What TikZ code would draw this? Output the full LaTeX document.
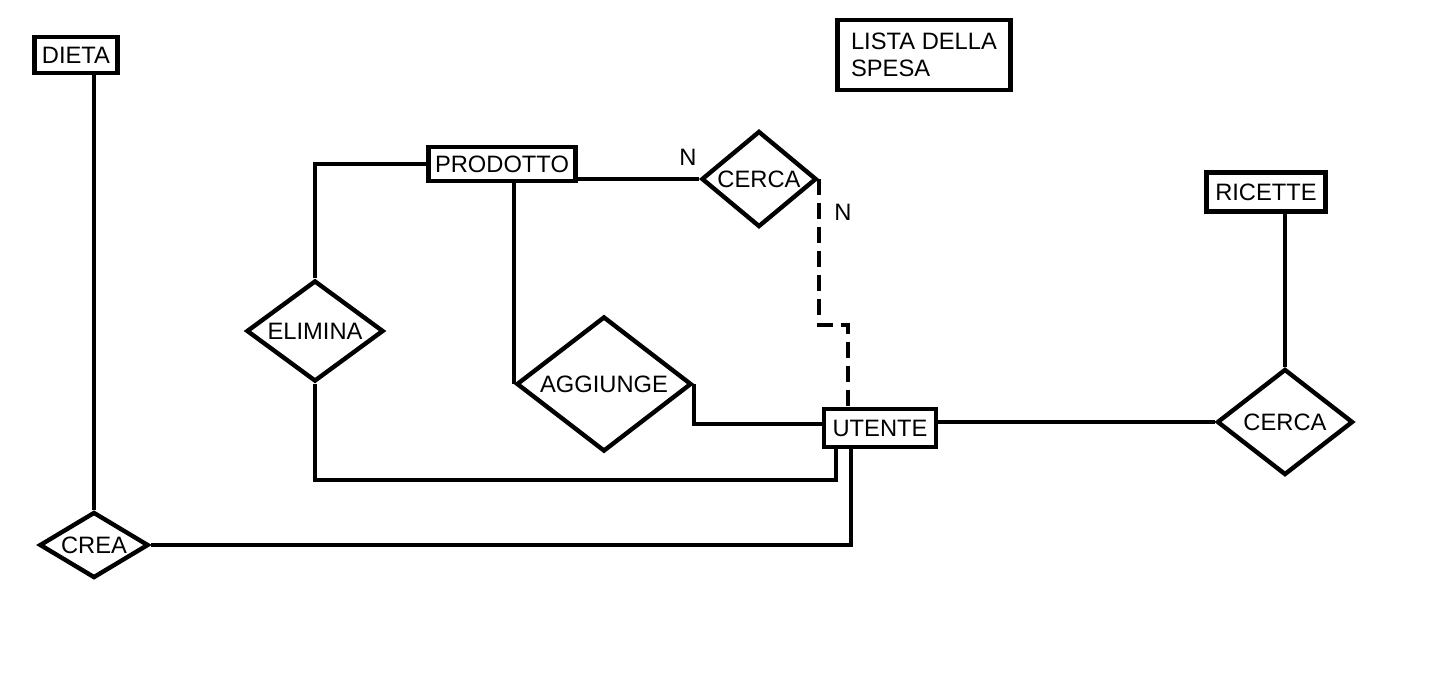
\documentclass[tikz,border=0pt]{standalone}
\usepackage{fontspec}
\setmainfont{Liberation Sans}
\usetikzlibrary{shapes.geometric}

\tikzset{
    entita/.style={draw, rectangle, line width=2.7pt, inner sep=2pt,
        font=\fontsize{13.5}{15.4}\selectfont},
    relazione/.style={draw, diamond, line width=2.5pt, inner sep=0pt,
        font=\fontsize{13.5}{15.4}\selectfont},
    linea/.style={line width=2.3pt},
    tratto/.style={line width=2.3pt, dash pattern=on 0.32cm off 0.16cm},
    card/.style={font=\fontsize{13.5}{15.4}\selectfont}
}

\begin{document}
\begin{tikzpicture}[x=0.02cm, y=-0.02cm]
    \useasboundingbox (0,0) rectangle (1434,690);

    % Entità
    \node[entita, minimum width=1.66cm, minimum height=0.72cm] (DIETA) at (76,55) {DIETA};
    \node[entita, minimum width=3.46cm, minimum height=1.4cm, align=left] (LISTA) at (924,55) {LISTA DELLA\\SPESA};
    \node[entita, minimum width=2.94cm, minimum height=0.68cm] (PRODOTTO) at (502,164) {PRODOTTO};
    \node[entita, minimum width=2.38cm, minimum height=0.78cm] (RICETTE) at (1266,192) {RICETTE};
    \node[entita, minimum width=2.24cm, minimum height=0.76cm] (UTENTE) at (880,428) {UTENTE};

    % Relazioni
    \node[relazione, shape aspect=1.2, minimum width=2.3cm, minimum height=1.92cm] (CERCA) at (759,179) {CERCA};
    \node[relazione, shape aspect=1.36, minimum width=2.74cm, minimum height=2.02cm] (ELIMINA) at (315,331) {ELIMINA};
    \node[relazione, shape aspect=1.3, minimum width=3.5cm, minimum height=2.7cm] (AGGIUNGE) at (604,384) {AGGIUNGE};
    \node[relazione, shape aspect=1.28, minimum width=2.72cm, minimum height=2.12cm] (CERCAR) at (1285,422) {CERCA};
    \node[relazione, shape aspect=1.67, minimum width=2.18cm, minimum height=1.32cm] (CREA) at (94,545) {CREA};

    % Cardinalità
    \node[card] (n1) at (688,157) {N};
    \node[card] (n2) at (843,212) {N};

    % Collegamenti
    \draw[linea] (CREA.north) -- (CREA.north |- DIETA.south);
    \draw[linea] (CREA.east) -| ([xshift=-0.58cm]UTENTE.south);
    \draw[linea] (ELIMINA.north) |- (PRODOTTO.west);
    \draw[linea] (ELIMINA.south) -- ++(0,96) -| ([xshift=-0.88cm]UTENTE.south);
    \draw[linea] (AGGIUNGE.west |- PRODOTTO.south) -- (AGGIUNGE.west);
    \draw[linea] (AGGIUNGE.east) |- ([yshift=0.08cm]UTENTE.west);
    \draw[linea] (PRODOTTO.east |- CERCA.west) -- (CERCA.west);
    \draw[tratto] (CERCA.east) -- ++(0,146) -| ([xshift=-0.64cm]UTENTE.north);
    \draw[linea] (UTENTE.east |- CERCAR.west) -- (CERCAR.west);
    \draw[linea] (CERCAR.north) -- (CERCAR.north |- RICETTE.south);
\end{tikzpicture}
\end{document}
